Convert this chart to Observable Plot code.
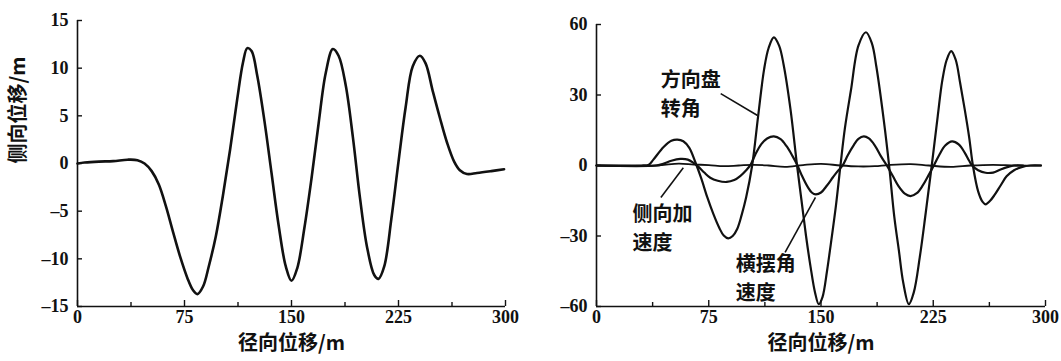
<!DOCTYPE html>
<html>
<head>
<meta charset="utf-8">
<script src="https://cdn.jsdelivr.net/npm/d3@7"></script>
<script src="https://cdn.jsdelivr.net/npm/@observablehq/plot@0.6"></script>
<style>
  html, body { margin: 0; padding: 0; background: #fff; }
  #wrap { position: relative; width: 1061px; height: 361px; overflow: hidden; background: #fff; }
  #left { position: absolute; left: 0; top: 0; }
  #right { position: absolute; left: 530px; top: 0; }
</style>
</head>
<body>
<div id="wrap"><div id="left"></div><div id="right"></div></div>
<script>
// ---------- data ----------
const xLabel = "径向位移/m";
const yLabelLeft = "侧向位移/m";
const xTicks = [0, 75, 150, 225, 300];
const xMinorTicks = [37.5, 112.5, 187.5, 262.5];
const yTicksLeft = [-15, -10, -5, 0, 5, 10, 15];
const yTicksRight = [-60, -30, 0, 30, 60];

// left panel: lateral displacement (m) vs longitudinal displacement (m)
const dispX = [0, 5, 15, 25, 35, 42, 47, 52, 57, 62, 67, 72, 77, 81, 84, 88, 92, 97, 102, 107, 112, 116, 119, 122, 126, 131, 136, 141, 146, 150, 154, 159, 164, 169, 174, 179, 183, 188, 193, 198, 203, 208, 211, 215, 220, 225, 230, 235, 240, 244, 249, 254, 259, 264, 268, 273, 280, 290, 299];
const dispY = [0, 0.1, 0.2, 0.25, 0.4, 0.35, 0, -0.8, -2.2, -4.5, -7.2, -9.8, -12, -13.3, -13.7, -12.9, -10.8, -7.6, -3.3, 1.5, 6.8, 10.6, 12.1, 11.8, 9.2, 4.5, -1, -6.5, -10.8, -12.3, -11, -6.8, -1.6, 4.2, 9.5, 12, 11.3, 8.2, 2.8, -3.6, -8.8, -11.7, -12.1, -10.8, -5.8, 0.2, 5.9, 10.2, 11.3, 10.5, 7.6, 4.8, 2.2, 0.2, -0.7, -1.1, -1.0, -0.8, -0.6];

// right panel: steering wheel angle
const steerX = [0, 30, 35, 38, 45, 50, 54, 58, 62, 66, 70, 74, 78, 82, 85, 88, 91, 94, 97, 100, 104, 108, 112, 115, 118.5, 122, 125, 129.6, 134, 137, 140, 143, 146, 148.5, 151, 154, 156, 160, 163, 166, 170, 175, 180, 184, 187, 192, 195.5, 199, 202, 205, 208.7, 212, 216, 220, 224, 228, 231, 234, 237, 240, 243, 246, 249, 251.5, 255, 258, 260, 263, 266, 270, 274, 279, 284, 290, 297];
const steerY = [0, 0, 0.3, 2.5, 8, 10.5, 11, 10.3, 7.5, 1.5, -5.5, -13.5, -20.5, -26.5, -29.8, -31, -30, -27, -21, -13.5, 0, 21, 41, 50, 54.5, 51, 43, 24, 0, -15, -30, -43, -54, -59, -56, -45, -36, -17, 0, 16, 32, 51, 56.7, 52, 42, 19, 0, -22, -36, -50, -59, -54, -39, -20, 0, 21, 36, 45, 48.7, 45, 35, 24, 12, 0, -11, -15.5, -16.5, -15, -12.5, -8.5, -4.6, -2, -0.7, 0, 0];

// right panel: yaw rate
const yawX = [0, 40, 45, 50, 56, 61, 65, 68, 72, 76, 81, 87, 92, 96, 100, 103, 106, 110, 114, 118.5, 123, 127, 131, 134, 137, 141, 144, 146.5, 150, 154, 158, 161, 164.4, 168, 172, 175, 178.6, 182, 186, 190, 194, 198, 202, 206, 209.8, 214, 218, 222, 225.4, 229, 233, 237.6, 242, 246, 249, 251, 255, 260, 265, 270, 275, 279, 285];
const yawY = [0, 0, 0.8, 2, 2.8, 2.5, 1, -0.5, -3, -5.2, -6.5, -7, -6.2, -4.5, -2, 0.4, 4.5, 9, 11.5, 12.4, 11.2, 8.2, 4, 0.4, -4, -9, -11.6, -12.3, -11.5, -8.5, -5, -2.5, 0, 4.5, 8.8, 11.3, 12.4, 11.5, 8.5, 4, 0, -4.5, -9, -12, -13, -11.8, -8.5, -4, 0, 4.5, 8.5, 10.3, 9, 5.5, 2, 0, -2, -3.1, -3, -1.7, -0.6, 0, 0];

// right panel: lateral acceleration
const accX = [0, 40, 55, 65, 75, 85, 95, 105, 115, 126, 138, 150, 163, 175, 186, 195, 210, 222, 237, 250, 265, 280, 297];
const accY = [0, 0, 0.8, 0.4, 0.2, -0.3, 0, 0.3, 0, -0.6, 0.2, 0.7, 0, -0.4, -0.3, 0.2, 0.6, 0, -0.6, 0, 0.3, 0, 0];

// annotations (data units of right panel)
const annoText = ["方向盘\n转角", "侧向加\n速度", "横摆角\n速度"];
const annoX = [43, 24, 93];
const annoY = [31, -26, -47];
const leadX1 = [83, 43, 126];
const leadY1 = [30.6, -13.6, -37];
const leadX2 = [107.6, 58, 146.3];
const leadY2 = [21.3, -1, -13.6];

// ---------- build ----------
const zip = (xs, ys) => xs.map((x, i) => ({x, y: ys[i]}));
const ink = "#111";
const tickFont = {fontFamily: "Liberation Serif", fontWeight: "bold", fontSize: 18, fill: ink};
const cjkFont = {fontFamily: "Noto Sans CJK SC", fontWeight: "bold", fontSize: 20, fill: ink};

function panel({width, mL, mR, mT, mB, yDomain, yTicks, series, extra}) {
  const plotW = width - mL - mR;
  const plotH = 361 - mT - mB;
  return Plot.plot({
    width, height: 361,
    marginLeft: mL, marginRight: mR, marginTop: mT, marginBottom: mB,
    x: {domain: [0, 300]},
    y: {domain: yDomain},
    marks: [
      Plot.ruleX([0], {stroke: ink, strokeWidth: 1.6}),
      Plot.ruleY([yDomain[0]], {stroke: ink, strokeWidth: 1.6}),
      Plot.tickX(xTicks, {x: d => d, stroke: ink, strokeWidth: 1.4, insetTop: plotH - 6}),
      Plot.tickX(xMinorTicks, {x: d => d, stroke: ink, strokeWidth: 1.4, insetTop: plotH - 4}),
      Plot.tickY(yTicks, {y: d => d, stroke: ink, strokeWidth: 1.4, insetRight: plotW - 5}),
      Plot.axisX(xTicks, {tickSize: 0, tickPadding: 4, label: null, tickFormat: d => String(d), ...tickFont}),
      Plot.axisY(yTicks, {tickSize: 0, tickPadding: 9, label: null, tickFormat: d => d < 0 ? "–" + Math.abs(d) : String(d), ...tickFont}),
      Plot.text([xLabel], {text: d => d, frameAnchor: "bottom", dy: 43, ...cjkFont}),
      ...series.map(s => Plot.line(s.data, {x: "x", y: "y", curve: "catmull-rom", stroke: ink, strokeWidth: s.w})),
      ...extra
    ]
  });
}

const left = panel({
  width: 530, mL: 77, mR: 25, mT: 20, mB: 55,
  yDomain: [-15, 15], yTicks: yTicksLeft,
  series: [{data: zip(dispX, dispY), w: 2.6}],
  extra: [
    Plot.text([yLabelLeft], {text: d => d, frameAnchor: "left", dx: -59, rotate: -90, ...cjkFont})
  ]
});

const annos = annoText.map((t, i) => ({t, x: annoX[i], y: annoY[i]}));
const leads = leadX1.map((x1, i) => ({x1, y1: leadY1[i], x2: leadX2[i], y2: leadY2[i]}));

const right = panel({
  width: 531, mL: 66, mR: 16, mT: 24, mB: 55,
  yDomain: [-60, 60], yTicks: yTicksRight,
  series: [
    {data: zip(accX, accY), w: 1.8},
    {data: zip(yawX, yawY), w: 2.2},
    {data: zip(steerX, steerY), w: 2.2}
  ],
  extra: [
    Plot.link(leads, {x1: "x1", y1: "y1", x2: "x2", y2: "y2", stroke: ink, strokeWidth: 1.6}),
    Plot.text(annos, {x: "x", y: "y", text: "t", textAnchor: "start", lineAnchor: "middle", lineHeight: 1.45, ...cjkFont})
  ]
});

document.getElementById("left").appendChild(left);
document.getElementById("right").appendChild(right);
</script>
</body>
</html>
